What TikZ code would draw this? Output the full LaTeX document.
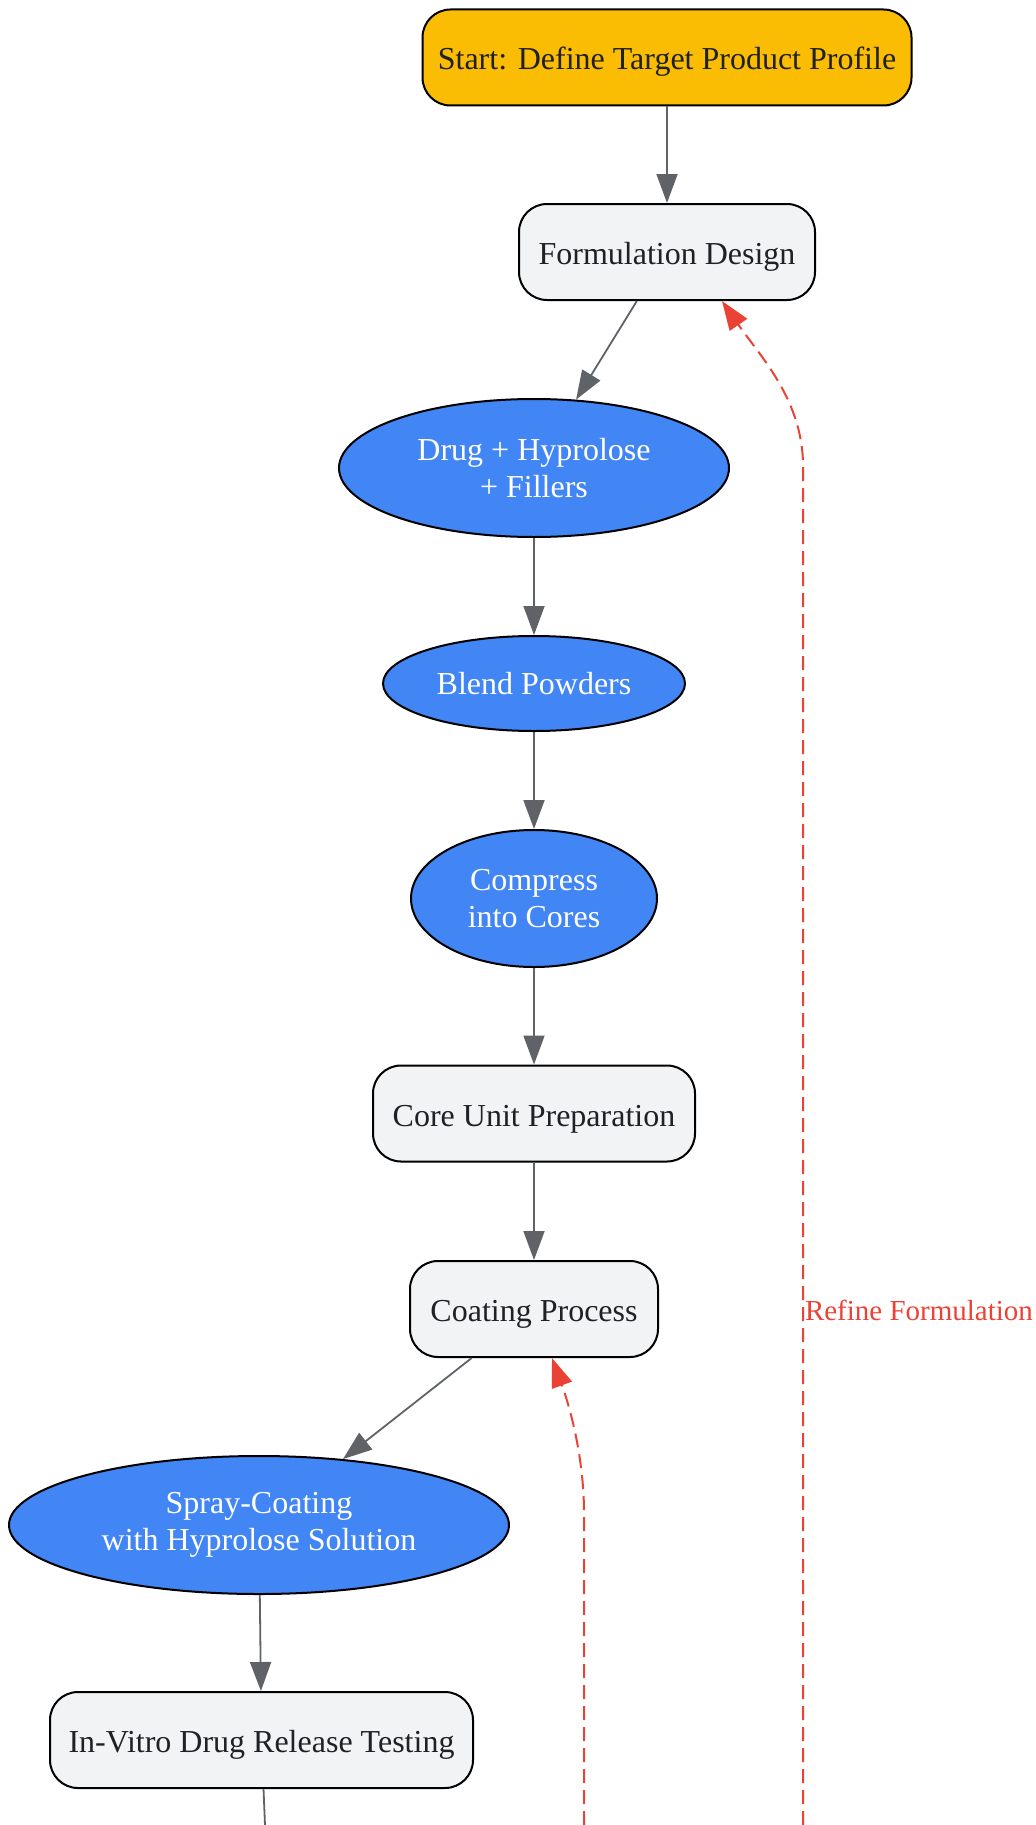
\documentclass[tikz,border=0pt]{standalone}
\usepackage{fontspec}
\setmainfont{Liberation Serif}
\usetikzlibrary{arrows.meta,shapes.geometric}
\definecolor{startyellow}{HTML}{FBBC04}
\definecolor{boxgray}{HTML}{F1F3F4}
\definecolor{stageblue}{HTML}{4285F4}
\definecolor{edgegray}{HTML}{5F6368}
\definecolor{loopred}{HTML}{EA4335}
\definecolor{textdark}{HTML}{202124}

\begin{document}
\begin{tikzpicture}[x=0.5pt, y=-0.5pt,
        every node/.style={font=\fontsize{16}{18.5}\selectfont, align=center, inner sep=0pt},
        procbox/.style={draw=black, line width=1pt, rounded corners=14pt, fill=boxgray, text=textdark, minimum height=48pt, text height=14pt, text depth=1.5pt},
        stageellipse/.style={ellipse, draw=black, line width=1pt, fill=stageblue, text=white},
        flow/.style={draw=edgegray, line width=0.9pt, -{Triangle[length=14.5pt, width=10.5pt]}},
        loopback/.style={draw=loopred, line width=1pt, dash pattern=on 7pt off 3.5pt, -{Triangle[length=14.5pt, width=10.5pt]}}]
        \useasboundingbox (0, 0) rectangle (1035, 1825);

        \node[procbox, fill=startyellow, minimum width=244.5pt] (start) at (667, 57.5) {Start: Define Target Product Profile};
        \node[procbox, minimum width=148pt] (formulation) at (667, 252) {Formulation Design};
        \node[stageellipse, minimum width=195pt, minimum height=69pt] (mixture) at (534, 468) {Drug + Hyprolose\\+ Fillers};
        \node[stageellipse, minimum width=151pt, minimum height=47.5pt] (blend) at (534, 683.5) {Blend Powders};
        \node[stageellipse, minimum width=123pt, minimum height=68.5pt] (compress) at (534, 898.5) {Compress\\into Cores};
        \node[procbox, minimum width=161pt] (core) at (534, 1113.5) {Core Unit Preparation};
        \node[procbox, minimum width=124pt] (coating) at (534, 1309) {Coating Process};
        \node[stageellipse, minimum width=250pt, minimum height=69pt] (spray) at (259, 1525) {Spray-Coating\\with Hyprolose Solution};
        \node[procbox, minimum width=211.5pt] (invitro) at (261.5, 1740) {In-Vitro Drug Release Testing};

        \coordinate (belowtest) at (265, 1825);
        \coordinate (retestend) at (584, 1825);
        \coordinate (refineend) at (803, 1825);

        \draw[flow] (start) -- (formulation);
        \draw[flow] (formulation) -- (mixture);
        \draw[flow] (mixture) -- (blend);
        \draw[flow] (blend) -- (compress);
        \draw[flow] (compress) -- (core);
        \draw[flow] (core) -- (coating);
        \draw[flow] (coating) -- (spray);
        \draw[flow] (spray) -- (invitro);
        \draw[draw=edgegray, line width=0.9pt] (invitro) -- (belowtest);

        \draw[loopback] (retestend) -- (584, 1513) .. controls (584, 1460) and (571, 1410) .. ([xshift=9pt]coating.south);
        \draw[loopback] (refineend) -- node[pos=0.379, anchor=west, inner sep=0.5pt, text=loopred, font=\fontsize{14.5}{17}\selectfont] {Refine Formulation} (803, 466)
            .. controls (803, 400) and (760, 356) .. ([xshift=27.5pt]formulation.south);
    \end{tikzpicture}
\end{document}
